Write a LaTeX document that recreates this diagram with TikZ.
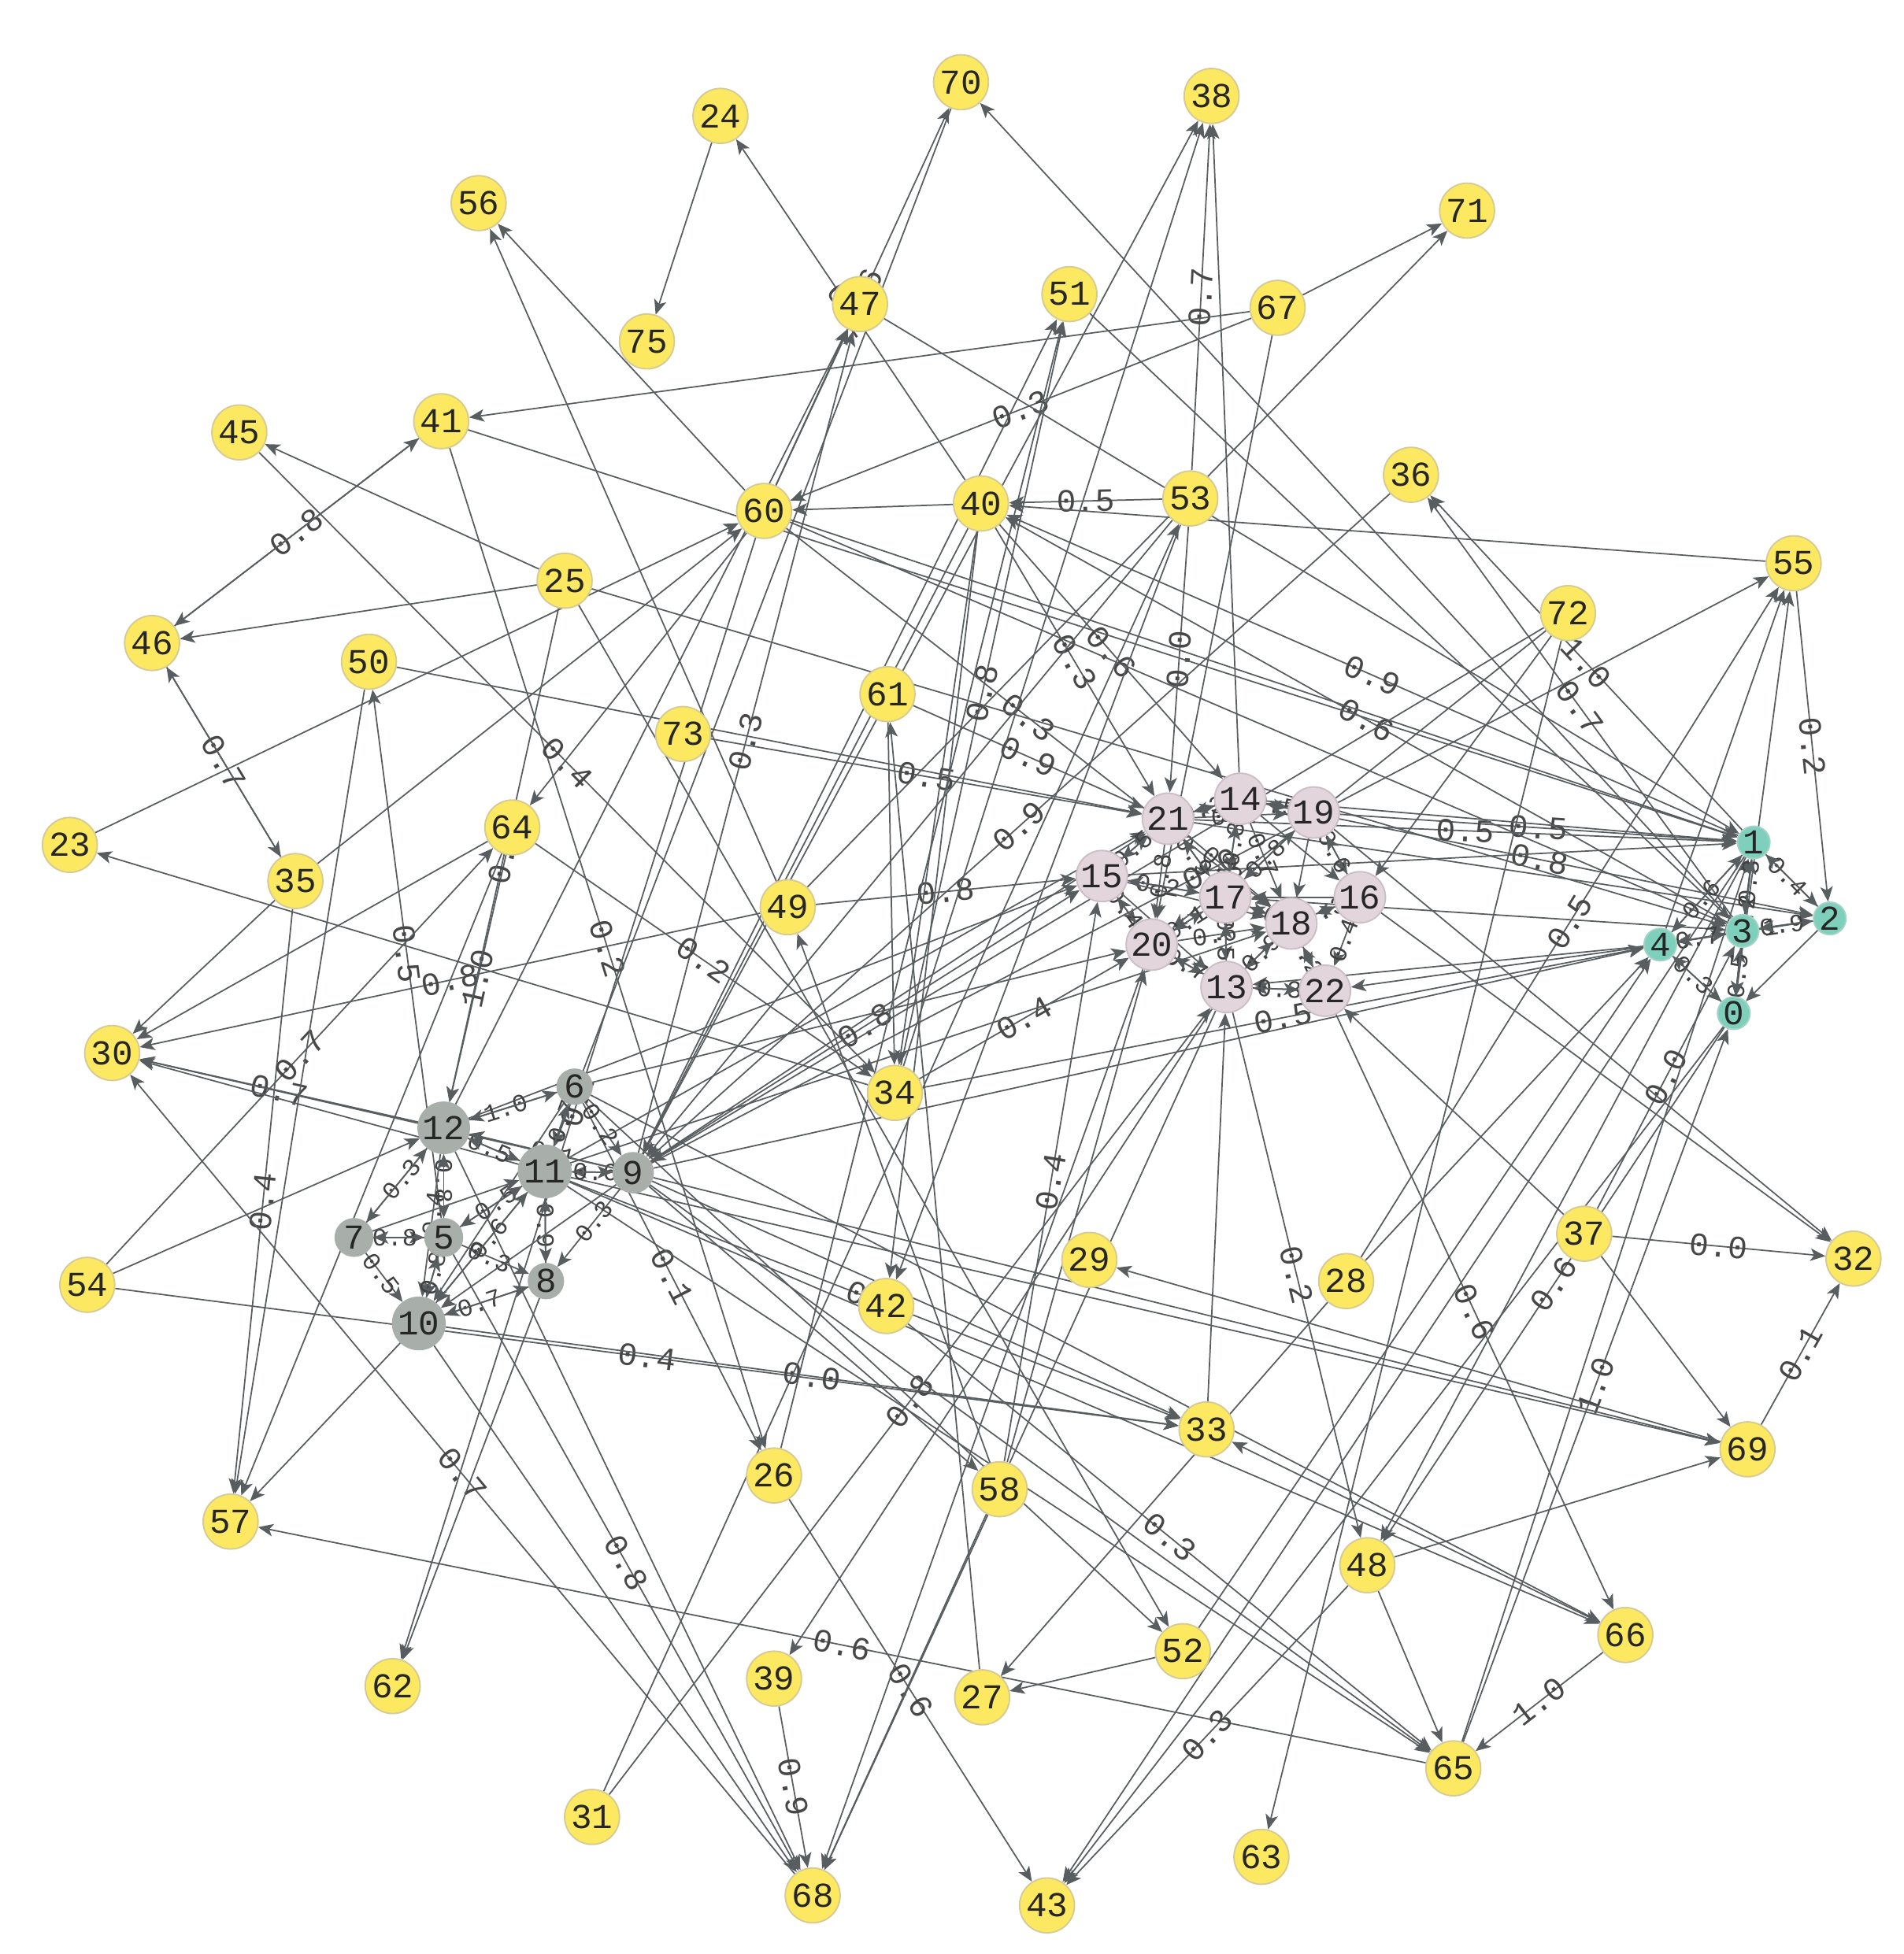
\documentclass[tikz,border=0pt]{standalone}
\usepackage{fontspec}
\setmonofont{Liberation Mono}
\usetikzlibrary{arrows.meta,backgrounds}
\definecolor{yelf}{HTML}{FCE961}
\definecolor{yeld}{HTML}{D6CB94}
\definecolor{pinkf}{HTML}{E3D5DC}
\definecolor{pinkd}{HTML}{CBBFC5}
\definecolor{cyanf}{HTML}{7ED0BD}
\definecolor{cyand}{HTML}{A3D3C5}
\definecolor{grayf}{HTML}{A8AEAA}
\definecolor{edgec}{HTML}{585D60}
\begin{document}
\begin{tikzpicture}[x=0.5pt,y=-0.5pt,
 nd/.style={circle,inner sep=0pt,line width=0.6pt,font=\ttfamily\fontsize{14}{14}\selectfont,text=black!85},
 yel/.style={nd,fill=yelf,draw=yeld,minimum size=22pt},
 pk/.style={nd,fill=pinkf,draw=pinkd,minimum size=20.5pt},
 cy/.style={nd,fill=cyanf,draw=cyand,minimum size=13pt},
 gr/.style={nd,fill=grayf,draw=grayf},
 edge/.style={draw=edgec,line width=0.55pt,-{Stealth[length=6pt,width=5pt,inset=1.5pt]}},
 elab/.style={sloped,midway,inner sep=1pt,font=\ttfamily\fontsize{13}{13}\selectfont,text=black!72},
 clab/.style={sloped,pos=0.42,inner sep=0.5pt,font=\ttfamily\fontsize{10}{10}\selectfont,text=black!75}]
\useasboundingbox (0,0) rectangle (1527,1568);
% yellow nodes
\foreach \n/\x/\y in {70/771/66, 38/972/77, 24/578/93, 56/384/163, 71/1177/169, 47/690/244,
 51/858/236, 67/1025/247, 75/519/274, 45/192/347, 41/354/338, 36/1132/381, 60/613/410,
 40/787/404, 53/955/400, 55/1439/452, 25/453/466, 72/1258/492, 46/122/516, 50/296/531,
 61/712/557, 73/548/589, 23/56/678, 64/411/664, 35/237/707, 49/632/728, 30/90/845,
 34/718/877, 37/1271/990, 32/1487/1010, 54/70/1031, 29/874/1011, 28/1080/1028, 42/711/1048,
 33/968/1147, 69/1402/1163, 26/621/1184, 58/802/1195, 57/185/1221, 48/1097/1256,
 66/1304/1312, 52/949/1325, 62/315/1353, 39/621/1347, 27/788/1362, 65/1166/1419,
 31/475/1458, 63/1012/1490, 68/652/1521, 43/840/1529}
  \node[yel] (n\n) at (\x,\y) {\n};
% pink cluster
\foreach \n/\x/\y in {21/937/657, 14/995/641, 19/1054/652, 15/884/703, 17/983/720,
 16/1091/720, 18/1036/741, 20/924/758, 13/984/792, 22/1063/795}
  \node[pk] (n\n) at (\x,\y) {\n};
% cyan cluster
\foreach \n/\x/\y in {1/1407/676, 2/1468/737, 3/1398/747, 4/1332/758, 0/1391/813}
  \node[cy] (n\n) at (\x,\y) {\n};
% gray cluster
\foreach \n/\x/\y/\s in {12/356/905/20.5, 11/437/940/21, 6/461/872/14, 7/284/993/15,
 5/356/993/15, 8/438/1028/14, 10/336/1062/21, 9/508/941/16}
  \node[gr,minimum size=\s pt] (n\n) at (\x,\y) {\n};
\begin{pgfonlayer}{background}
\fill[white] (0,0) rectangle (1527,1568);
% labelled edges
\foreach \a/\b/\l in {40/24/0.2, 60/70/0.6, 53/38/0.7, 67/60/0.3, 46/41/0.8, 46/35/0.7,
 41/26/0.2, 9/47/0.3, 34/51/0.8, 53/40/0.5, 1/40/0.9, 3/40/0.6, 40/21/0.3, 40/14/0.6,
 53/21/0.0, 36/9/0.9, 1/36/1.0, 3/36/0.7, 55/2/0.2, 61/21/0.9, 73/21/0.5, 5/50/0.5,
 35/57/0.4, 54/64/0.7, 64/12/1.0, 64/34/0.2, 49/30/0.8, 49/15/0.8, 68/30/0.7, 54/33/0.4,
 65/57/0.6, 60/62/0.7, 31/13/0.8, 5/68/0.8, 26/43/0.6, 48/43/0.3, 66/65/1.0, 65/0/1.0,
 42/65/0.3, 11/33/0.3, 28/55/0.5, 0/48/0.6, 13/48/0.2, 69/32/0.1, 37/32/0.0, 34/4/0.5,
 34/20/0.4, 9/15/0.8, 60/18/0.3, 19/1/0.5, 10/33/0.0, 39/68/0.9, 6/26/0.1, 58/15/0.4,
 9/55/0.0, 37/3/0.0, 22/66/0.6, 12/30/0.7, 45/34/0.4, 25/12/0.2, 14/2/0.8, 21/1/0.5}
  \draw[edge] (n\a) -- node[elab]{\l} (n\b);
% unlabelled edges
\foreach \a/\b in {24/75, 70/11, 14/38, 34/38, 9/38, 3/70, 67/71, 49/71, 67/41, 67/20,
 60/56, 49/56, 25/45, 41/46, 25/46, 35/46, 41/1, 60/47, 12/47, 47/1, 26/51, 9/51, 51/3,
 55/40, 40/60, 40/9, 40/34, 40/42, 53/42, 53/9, 72/16, 72/20, 72/9, 72/63, 4/55, 0/55,
 61/34, 27/61, 50/21, 50/57, 35/30, 35/60, 64/30, 64/57, 60/64, 58/49, 23/60, 34/23,
 11/30, 9/30, 54/12, 10/57, 8/62, 31/53, 58/68, 13/68, 20/68, 10/68, 12/68, 0/43, 1/43,
 48/65, 11/65, 9/65, 65/1, 11/66, 6/66, 66/33, 6/52, 25/52, 52/27, 52/4, 28/27, 58/20,
 9/58, 69/29, 13/39, 33/13, 9/33, 28/4, 1/48, 48/69, 37/69, 11/69, 9/69, 16/32, 19/32,
 37/22, 9/4, 9/21, 11/21, 12/15, 6/20, 11/18, 60/1, 60/3, 25/3, 14/1, 21/2, 17/3, 4/22,
 4/13, 15/1}
  \draw[edge] (n\a) -- (n\b);
% pink cluster internal
\foreach \a/\b/\l in {21/14/0.3, 15/21/0.5, 21/17/0.9, 14/19/0.5, 14/17/0.3, 19/16/0.6,
 17/19/0.8, 15/17/0.2, 15/20/0.4, 20/17/0.1, 20/13/0.7, 17/13/0.5, 17/18/0.6, 18/16/0.3,
 18/13/0.9, 18/22/0.2, 16/22/0.4, 22/13/0.3, 21/20/0.8, 14/18/0.7, 21/19/0.1, 21/18/0.2,
 20/18/0.6}
  \draw[edge] (n\a) -- node[clab]{\l} (n\b);
\foreach \a/\b in {14/21, 21/15, 17/21, 19/14, 17/14, 16/19, 19/17, 17/15, 20/15, 17/20,
 13/20, 13/17, 18/17, 16/18, 13/18, 22/18, 13/22, 15/13, 19/18, 14/16, 15/18, 16/17}
  \draw[edge] (n\a) -- (n\b);
% gray cluster internal
\foreach \a/\b/\l in {12/11/0.5, 12/7/0.3, 12/5/0.8, 12/10/0.4, 12/6/1.0, 6/11/0.7,
 6/9/0.2, 9/11/0.6, 11/5/0.5, 11/10/0.6, 11/8/0.9, 9/8/0.3, 5/10/0.8, 7/10/0.5, 7/5/0.8,
 5/8/0.3, 10/8/0.7, 9/12/0.1}
  \draw[edge] (n\a) -- node[clab]{\l} (n\b);
\foreach \a/\b in {11/12, 7/12, 5/12, 6/12, 11/6, 11/9, 5/11, 10/11, 8/11, 9/10, 10/5,
 5/7, 8/10, 6/10, 7/11}
  \draw[edge] (n\a) -- (n\b);
% cyan cluster internal
\foreach \a/\b/\l in {1/2/0.4, 1/3/0.3, 3/2/0.9, 4/3/0.7, 0/3/0.5, 1/0/0.2, 4/1/0.6,
 4/0/0.3, 2/4/0.1}
  \draw[edge] (n\a) -- node[clab]{\l} (n\b);
\foreach \a/\b in {2/1, 3/1, 2/3, 3/4, 3/0, 2/0, 1/4, 0/4, 0/1}
  \draw[edge] (n\a) -- (n\b);
\end{pgfonlayer}
\end{tikzpicture}
\end{document}
